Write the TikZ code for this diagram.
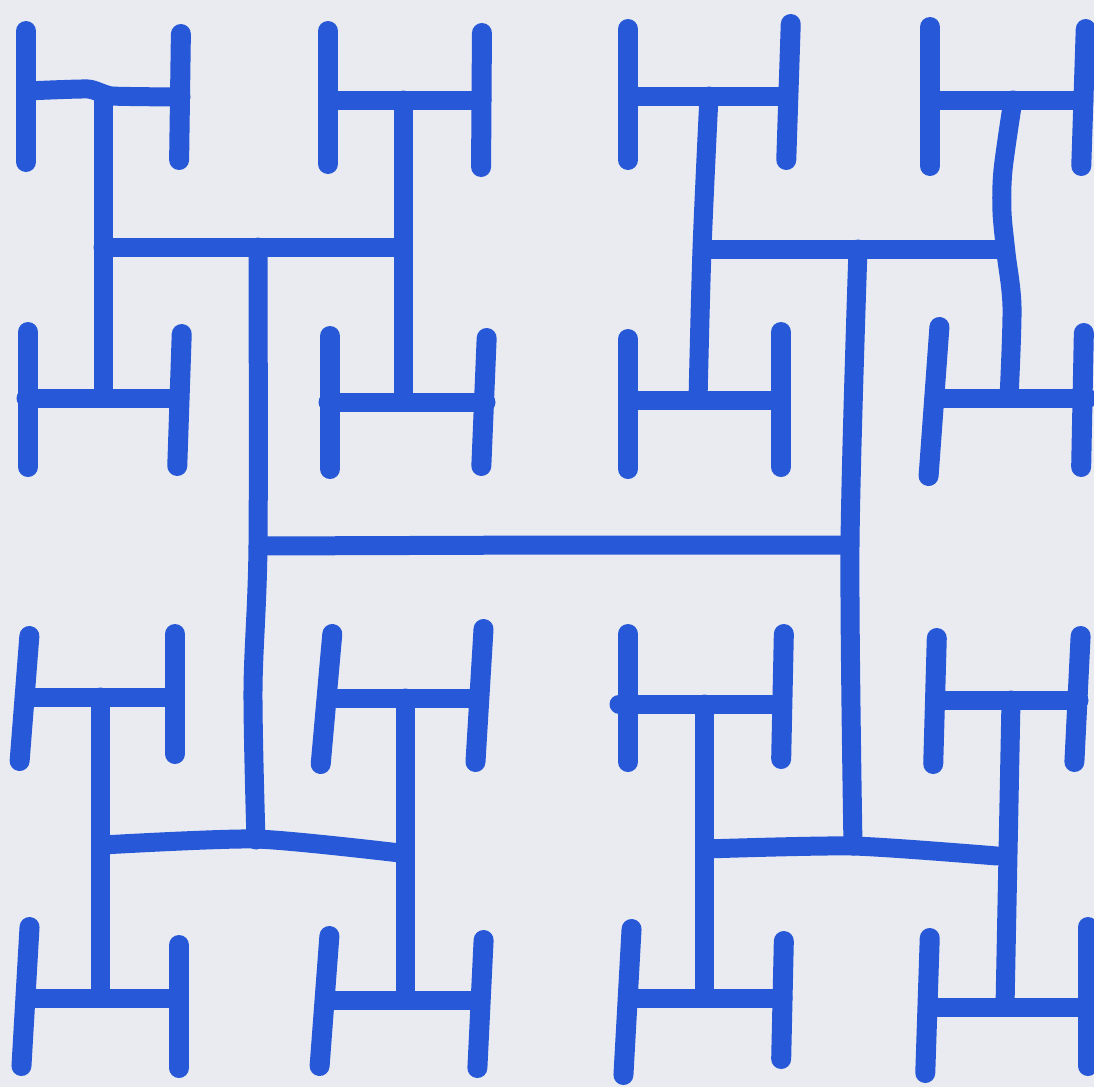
\documentclass[tikz,border=0pt]{standalone}
\definecolor{ink}{RGB}{38,88,216}
\definecolor{paper}{RGB}{233,235,241}
\tikzset{
  bar/.style={draw=ink, line width=19pt, line cap=round, line join=round},
  leaf/.style={bar, line width=20pt, shorten <=8pt, shorten >=8pt}
}
\begin{document}
\begin{tikzpicture}[x=1pt,y=-1pt]
\fill[paper] (0,0) rectangle (1094,1087);
\useasboundingbox (0,0) rectangle (1094,1087);
% level 0
\draw[bar] (258,546) -- (555,545) -- (849,545);
% level 1
\draw[bar] plot[smooth, tension=0.5] coordinates {(258,247) (258,546) (253,690) (256,840)};
\draw[bar] plot[smooth, tension=0.5] coordinates {(858,249) (850,545) (853,846)};
% level 2
\draw[bar] (103,247) -- (402,247);
\draw[bar] plot[smooth, tension=0.4] coordinates {(102,845) (256,839) (400,853)};
\draw[bar] (705,249) -- (1004,249);
\draw[bar] plot[smooth, tension=0.4] coordinates {(705,849) (853,846) (997,856)};
% level 3
\draw[bar] (103,94) -- (103,398);
\draw[bar] (403,100) -- (403,247) -- (403,402);
\draw[bar] plot[smooth, tension=0.5] coordinates {(709,96) (702,249) (698,400)};
\draw[bar] plot[smooth, tension=0.5] coordinates {(1013,100) (1003,170) (1002,212) (1006,253) (1012,307) (1009,398)};
\draw[bar] (100,697) -- (100,998);
\draw[bar] (405,698) -- (405,1000);
\draw[bar] (704,704) -- (704,998);
\draw[bar] (1011,700) -- (1005,1007);
% level 4 (small horizontals)
\draw[bar] plot[smooth, tension=0.3] coordinates {(26,91) (88,89) (112,96) (181,97)};
\draw[bar] (328,100) -- (482,100);
\draw[bar] (628,96) -- (788,96);
\draw[bar] (930,100) -- (1084,100);
\draw[bar] (26,398) -- (179,398);
\draw[bar] (328,402) -- (486,402);
\draw[bar] (628,400) -- (781,400);
\draw[bar] (937,398) -- (1088,398);
\draw[bar] (26,697) -- (172,697);
\draw[bar] (332,698) -- (476,698);
\draw[bar] (619,704) -- (782,704);
\draw[bar] (937,700) -- (1079,700);
\draw[bar] (26,998) -- (179,998);
\draw[bar] (326,1000) -- (480,1000);
\draw[bar] (630,998) -- (783,998);
\draw[bar] (928,1007) -- (1088,1007);
% level 5 (small verticals)
\draw[leaf] (26,23) -- (26,170);
\draw[leaf] (181,26) -- (179,168);
\draw[leaf] (328,23) -- (328,172);
\draw[leaf] (482,25) -- (481,175);
\draw[leaf] (628,21) -- (628,168);
\draw[leaf] (791,16) -- (786,168);
\draw[leaf] (930,19) -- (930,174);
\draw[leaf] (1086,21) -- (1081,174);
\draw[leaf] (28,324) -- (28,475);
\draw[leaf] (182,326) -- (177,474);
\draw[leaf] (330,328) -- (330,477);
\draw[leaf] (487,330) -- (481,474);
\draw[leaf] (628,331) -- (628,477);
\draw[leaf] (781,324) -- (781,475);
\draw[leaf] (940,319) -- (928,484);
\draw[leaf] (1084,325) -- (1081,475);
\draw[leaf] (30,628) -- (19,769);
\draw[leaf] (175,626) -- (175,762);
\draw[leaf] (333,626) -- (320,772);
\draw[leaf] (484,621) -- (475,770);
\draw[leaf] (628,626) -- (628,770);
\draw[leaf] (784,626) -- (781,767);
\draw[leaf] (937,630) -- (933,772);
\draw[leaf] (1081,628) -- (1074,770);
\draw[leaf] (30,919) -- (21,1074);
\draw[leaf] (179,937) -- (179,1076);
\draw[leaf] (330,928) -- (319,1074);
\draw[leaf] (484,932) -- (477,1076);
\draw[leaf] (632,921) -- (623,1083);
\draw[leaf] (784,933) -- (781,1067);
\draw[leaf] (930,930) -- (925,1081);
\draw[leaf] (1088,919) -- (1088,1074);
\end{tikzpicture}
\end{document}
